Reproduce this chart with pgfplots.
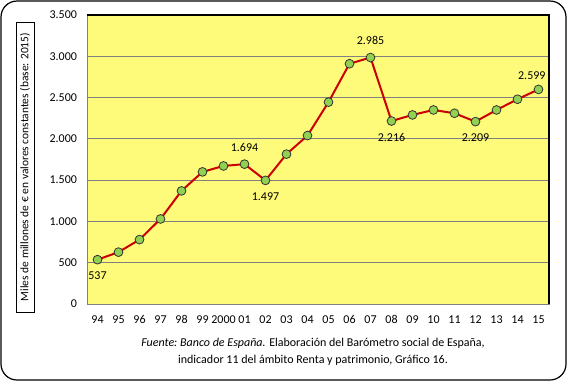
\documentclass[border=0pt]{standalone}
\usepackage{fontspec}
\setmainfont{Carlito}
\usepackage{pgfplots}
\pgfplotsset{compat=1.18}
\definecolor{bgyellow}{RGB}{255,251,122}
\definecolor{linered}{RGB}{204,0,0}
\definecolor{mkgreen}{RGB}{146,208,80}
\definecolor{gridgray}{RGB}{128,128,128}
\begin{document}
\begin{tikzpicture}
\path (0,0) rectangle (429pt,-287.25pt);
\draw[black, line width=0.9pt, rounded corners=12pt] (0.75pt,-0.75pt) rectangle (424.5pt,-285pt);
\node[draw=black, line width=0.75pt, rotate=90, minimum width=217.5pt, minimum height=13.5pt, inner sep=0pt, font=\fontsize{8.6}{10}\selectfont] at (18.75pt,-125.25pt) {Miles de millones de € en valores constantes (base: 2015)};
\begin{axis}[
 at={(65.25pt,-228pt)}, anchor=south west,
 scale only axis, width=346.5pt, height=216.75pt,
 xmin=-0.5, xmax=21.5, ymin=0, ymax=3500,
 xtick={0,...,21},
 xticklabels={94,95,96,97,98,99,2000,01,02,03,04,05,06,07,08,09,10,11,12,13,14,15},
 ytick={0,500,1000,1500,2000,2500,3000,3500},
 yticklabels={0,500,1.000,1.500,2.000,2.500,3.000,3.500},
 major tick length=0pt,
 ymajorgrids, grid style={gridgray, line width=0.75pt},
 axis background/.style={fill=bgyellow},
 axis line style={gridgray, line width=0.75pt},
 tick label style={font=\fontsize{9}{10}\selectfont, black},
 xticklabel style={yshift=-5pt},
 yticklabel style={xshift=-4pt},
 clip=false,
 axis on top=false,
]
\addplot[linered, line width=1.5pt, mark=*, mark size=3.3pt,
 mark options={fill=mkgreen, draw=black!80, line width=0.6pt}]
 table {
x y
0 537
1 628
2 780
3 1030
4 1370
5 1600
6 1672
7 1694
8 1497
9 1815
10 2040
11 2445
12 2910
13 2985
14 2216
15 2290
16 2350
17 2310
18 2209
19 2350
20 2480
21 2599
};
\addplot[only marks, mark=none, point meta=explicit symbolic, nodes near coords,
 nodes near coords style={anchor=center, inner sep=0pt, yshift=12.5pt, font=\fontsize{9}{10}\selectfont, black}]
 table[meta=l] {
x y l
7 1694 1.694
13 2985 2.985
};
\addplot[only marks, mark=none, point meta=explicit symbolic, nodes near coords,
 nodes near coords style={anchor=center, inner sep=0pt, yshift=10pt, xshift=-5pt, font=\fontsize{9}{10}\selectfont, black}]
 table[meta=l] {
x y l
21 2599 2.599
};
\addplot[only marks, mark=none, point meta=explicit symbolic, nodes near coords,
 nodes near coords style={anchor=center, inner sep=0pt, yshift=-12pt, font=\fontsize{9}{10}\selectfont, black}]
 table[meta=l] {
x y l
0 537 537
8 1497 1.497
14 2216 2.216
18 2209 2.209
};
\end{axis}
\draw[black, line width=0.9pt] (65.25pt,-11.25pt) -- (411.75pt,-11.25pt) -- (411.75pt,-228pt);
\node[align=center, font=\fontsize{9}{12.75}\selectfont, anchor=center] at (234.75pt,-263.6pt)
 {\textit{Fuente:\ Banco de España.} Elaboración del Barómetro social de España,\\ indicador\ 11\ del ámbito Renta y patrimonio,\ Gráfico 16.};
\end{tikzpicture}
\end{document}
